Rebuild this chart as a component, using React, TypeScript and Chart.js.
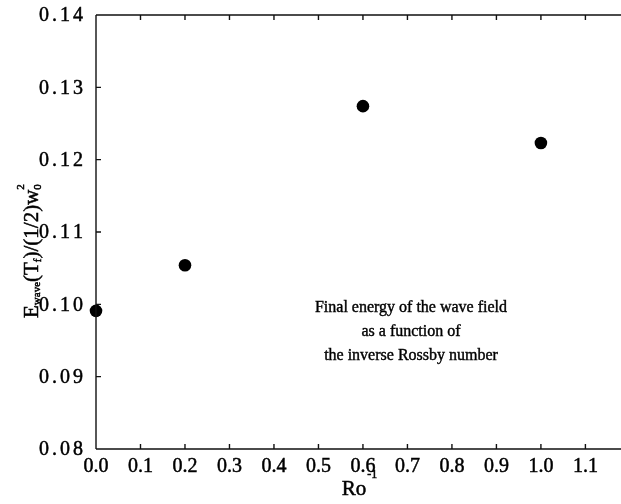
import React, { useEffect, useRef } from "react";
import { Chart, registerables } from "chart.js";

Chart.register(...registerables);

const roInverse = [0.0, 0.2, 0.6, 1.0];
const waveEnergy = [0.0991, 0.1054, 0.1274, 0.1223];
const xTickValues = [0.0, 0.1, 0.2, 0.3, 0.4, 0.5, 0.6, 0.7, 0.8, 0.9, 1.0, 1.1];
const yTickValues = [0.08, 0.09, 0.1, 0.11, 0.12, 0.13, 0.14];
const noteLines = [
  "Final energy of the wave field",
  "as a function of",
  "the inverse Rossby number",
];

const SERIF = "'Liberation Serif', 'DejaVu Serif', serif";
const INK = "#111";

const axesPlugin = {
  id: "axesPlugin",
  afterDraw(chart: any) {
    const { ctx, chartArea, scales } = chart;
    const xs = scales.x;
    const ys = scales.y;
    const { left, right, top, bottom } = chartArea;
    ctx.save();
    ctx.strokeStyle = INK;
    ctx.lineWidth = 1.4;
    ctx.beginPath();
    ctx.moveTo(left, top);
    ctx.lineTo(left, bottom);
    ctx.moveTo(left, bottom);
    ctx.lineTo(right, bottom);
    ctx.moveTo(left, top);
    ctx.lineTo(right, top);
    ctx.stroke();
    const tl = 5;
    ctx.beginPath();
    xTickValues.forEach((v) => {
      if (v === 0) return;
      const px = xs.getPixelForValue(v);
      ctx.moveTo(px, bottom);
      ctx.lineTo(px, bottom - tl);
      ctx.moveTo(px, top);
      ctx.lineTo(px, top + tl);
    });
    yTickValues.forEach((v) => {
      if (v <= 0.08 || v >= 0.14) return;
      const py = ys.getPixelForValue(v);
      ctx.moveTo(left, py);
      ctx.lineTo(left + tl, py);
    });
    ctx.stroke();

    ctx.fillStyle = "#000";
    ctx.strokeStyle = "#000";
    ctx.lineWidth = 0.5;
    ctx.textBaseline = "alphabetic";
    ctx.textAlign = "left";
    const draw = (t: string, x: number, y: number) => {
      ctx.fillText(t, x, y);
      ctx.strokeText(t, x, y);
    };

    // y tick labels, loosely spaced, right-aligned
    ctx.font = `20px ${SERIF}`;
    ctx.textBaseline = "middle";
    const spacing = 3;
    yTickValues.forEach((v) => {
      const s = v.toFixed(2);
      const chars = s.split("");
      const widths = chars.map((c) => ctx.measureText(c).width);
      const total = widths.reduce((a, b) => a + b, 0) + spacing * (chars.length - 1);
      let x = left - 13 - total;
      const y = ys.getPixelForValue(v) + 1;
      chars.forEach((c, i) => {
        draw(c, x, y);
        x += widths[i] + spacing;
      });
    });
    ctx.textBaseline = "alphabetic";

    // x title: Ro^-1
    ctx.font = `21px ${SERIF}`;
    const roW = ctx.measureText("Ro").width;
    const xc = 357;
    const xBase = 495;
    draw("Ro", xc - roW / 2 - 3, xBase);
    ctx.font = `12px ${SERIF}`;
    draw("-1", xc + roW / 2 - 2, xBase - 17);

    // y title rotated
    ctx.save();
    ctx.translate(38, 318);
    ctx.rotate(-Math.PI / 2);
    let cx = 0;
    const big = `21px ${SERIF}`;
    const small = `11px ${SERIF}`;
    const put = (t: string, f: string, dy: number) => {
      ctx.font = f;
      draw(t, cx, dy);
      cx += ctx.measureText(t).width;
    };
    put("E", big, 0);
    put("wave", small, 2);
    put("(T", big, 0);
    put("f", small, 3);
    put(")/(1/2)w", big, 0);
    ctx.font = small;
    draw("0", cx, 3);
    draw("2", cx, -14);
    ctx.restore();

    // annotation
    ctx.font = `16px ${SERIF}`;
    ctx.lineWidth = 0.4;
    ctx.textAlign = "center";
    ctx.textBaseline = "middle";
    const ax = 411;
    const ays = [308, 332, 356];
    noteLines.forEach((t, i) => draw(t, ax, ays[i]));
    ctx.restore();
  },
};

export default function App() {
  const ref = useRef<HTMLCanvasElement | null>(null);
  useEffect(() => {
    if (!ref.current) return;
    const chart = new Chart(ref.current, {
      type: "scatter",
      data: {
        datasets: [
          {
            data: roInverse.map((x, i) => ({ x, y: waveEnergy[i] })),
            backgroundColor: "#000",
            borderColor: "#000",
            borderWidth: 0,
            pointRadius: 6.3,
            pointHoverRadius: 6.3,
            clip: false as any,
          },
        ],
      },
      options: {
        animation: false,
        responsive: false,
        maintainAspectRatio: false,
        layout: { autoPadding: false, padding: { left: 0, right: 0, top: 15, bottom: 0 } },
        plugins: {
          legend: { display: false },
          tooltip: { enabled: false },
        },
        scales: {
          x: {
            type: "linear",
            min: 0,
            max: 1.18,
            grid: { display: false, drawTicks: false },
            border: { display: false },
            afterBuildTicks: (s: any) => {
              s.ticks = xTickValues.map((v) => ({ value: v }));
            },
            afterFit: (s: any) => {
              s.height = 55;
              s.paddingLeft = 0;
              s.paddingRight = 0;
            },
            ticks: {
              autoSkip: false,
              maxRotation: 0,
              padding: 6,
              color: "#000",
              textStrokeColor: "#000",
              textStrokeWidth: 0.5,
              font: { family: SERIF, size: 20 },
              callback: (v: any) => Number(v).toFixed(1),
            },
          },
          y: {
            type: "linear",
            min: 0.08,
            max: 0.14,
            grid: { display: false, drawTicks: false },
            border: { display: false },
            afterBuildTicks: (s: any) => {
              s.ticks = yTickValues.map((v) => ({ value: v }));
            },
            afterFit: (s: any) => {
              s.width = 96;
              s.paddingTop = 0;
              s.paddingBottom = 0;
            },
            ticks: {
              display: false,
              autoSkip: false,
              font: { family: SERIF, size: 20 },
              callback: (v: any) => Number(v).toFixed(2),
            },
          },
        },
      },
      plugins: [axesPlugin],
    });
    return () => chart.destroy();
  }, []);
  return (
    <div style={{ position: "fixed", left: 0, top: 0, width: 621, height: 504, background: "#fff" }}>
      <canvas ref={ref} width={621} height={504} style={{ display: "block" }} />
    </div>
  );
}
